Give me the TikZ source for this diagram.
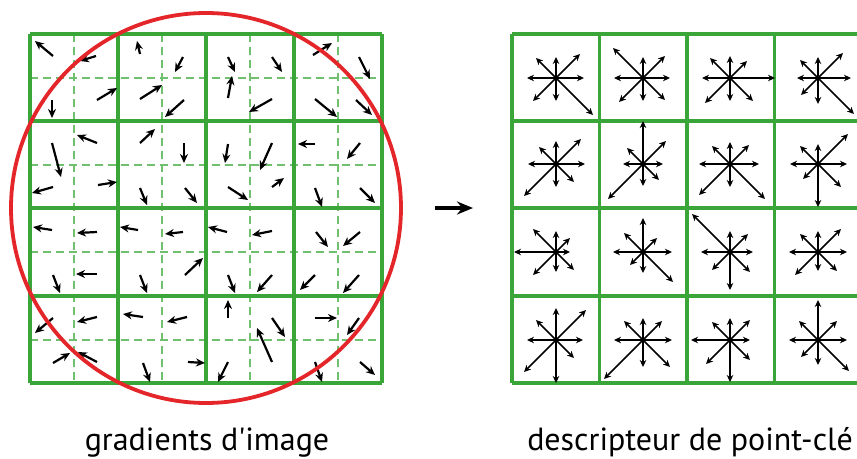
\documentclass[tikz,border=0pt]{standalone}
\usepackage{fontspec}
\newfontfamily\labfont{PT Sans}[Ligatures=TeXOff]
\usetikzlibrary{arrows.meta}
\definecolor{gridgreen}{RGB}{58,166,58}
\definecolor{dashgreen}{RGB}{112,192,112}
\definecolor{circred}{RGB}{228,38,42}
\begin{document}
\begin{tikzpicture}[x=1pt,y=-1pt,
  gridline/.style={gridgreen, line width=3.4pt, line cap=square},
  fineline/.style={dashgreen, line width=2pt, dash pattern=on 8pt off 5pt},
  grad/.style={line width=2.2pt, -{Stealth[length=9pt,width=8pt]}},
  hist/.style={line width=1.5pt, -{Stealth[length=7pt,width=6.5pt]}},
  lab/.style={font=\labfont\fontsize{32}{34}\selectfont, anchor=base, inner sep=0pt}]
\useasboundingbox (0,0) rectangle (857,458);
\clip (0,0) rectangle (857,458);
% left grid
\foreach \x in {74,162,250,338} \draw[fineline] (\x,34) -- (\x,383);
\foreach \y in {77.5,164.5,252,339.5} \draw[fineline] (30,\y) -- (382,\y);
\foreach \x in {30,118,206,294,382} \draw[gridline] (\x,34) -- (\x,383);
\foreach \y in {34,121,208,296,383} \draw[gridline] (30,\y) -- (382,\y);
% right grid
\foreach \x in {512,599.5,687,774.5,862} \draw[gridline] (\x,34) -- (\x,383);
\foreach \y in {34,121,208,296,383} \draw[gridline] (512,\y) -- (862,\y);
% gradients
\foreach \a/\b/\c/\d in {
53/56/35/41, 96/56/80/61, 52/100/52/118, 97/100/117/88,
140/54/137/41, 183/57/175/72, 140/99/162/85, 184/100/165/117,
97/143/77/135, 52/143/61/177, 140/143/155/129, 184/143/184/163,
53/187/32/193, 98/185/117/182, 140/188/147/205, 185/188/197/203,
228/57/235/72, 228/98/232/76, 272/57/282/72, 272/99/249/112,
313/55/332/43, 359/57/370/79, 315/99/337/117, 356/100/372/115,
228/144/225/163, 272/143/260/170, 315/144/298/144, 360/143/347/159,
228/187/248/200, 272/187/284/178, 315/188/322/207, 360/188/375/203,
52/230/33/227, 97/232/77/233, 138/230/120/227, 183/232/165/234,
53/275/60/293, 97/274/76/274, 140/275/147/293, 185/275/203/258,
53/318/35/333, 97/317/77/322, 143/317/123/314, 187/317/167/322,
53/363/70/353, 97/362/78/352, 143/363/150/382, 188/362/205/363,
227/232/208/227, 272/231/252/235, 316/232/328/247, 360/232/343/246,
228/275/235/293, 272/275/257/292, 315/275/300/290, 359/275/343/293,
228/318/228/300, 272/318/285/337, 315/318/337/318, 359/318/347/335,
272/362/257/328, 228/362/218/382, 315/362/322/382, 360/362/375/375}
  \draw[grad] (\a,\b) -- (\c,\d);
% histograms
\foreach \cx/\cy/\e/\ne/\n/\nw/\w/\sw/\s/\se in {
556/78/28/24/21/20/29/23/23/37,
643/78/27/22/21/30/29/24/23/22,
730/78/45/17/22/20/28/25/23/23,
818/78/33/25/21/18/21/17/26/36,
556/164/29/25/23/17/28/32/23/18,
643/164/20/23/43/16/20/35/22/16,
730/164/29/19/22/18/31/31/23/35,
818/164/29/30/20/18/28/15/43/23,
556/252/14/14/21/23/42/23/20/18,
643/252/29/14/34/19/30/13/21/30,
730/252/23/18/21/38/29/18/38/20,
818/252/29/23/21/18/29/23/19/19,
556/340/27/30/32/20/29/32/43/18,
643/340/29/19/22/19/29/39/27/27,
730/340/20/20/22/18/39/24/42/20,
818/340/29/19/40/19/29/17/25/31}
{
  \draw[hist] (\cx,\cy) -- ++(\e,0);
  \draw[hist] (\cx,\cy) -- ++(\ne,-\ne);
  \draw[hist] (\cx,\cy) -- ++(0,-\n);
  \draw[hist] (\cx,\cy) -- ++(-\nw,-\nw);
  \draw[hist] (\cx,\cy) -- ++(-\w,0);
  \draw[hist] (\cx,\cy) -- ++(-\sw,\sw);
  \draw[hist] (\cx,\cy) -- ++(0,\s);
  \draw[hist] (\cx,\cy) -- ++(\se,\se);
}
% circle
\draw[circred, line width=3.8pt] (206,208) circle[radius=195];
% middle arrow
\coordinate (atail) at (435,208);
\coordinate (ahead) at (473,208);
\draw[line width=3.2pt, -{Stealth[length=16pt,width=13pt]}] (atail) -- (ahead);
% labels
\node[lab] (labL) at (207,450) {gradients d'image};
\node[lab] (labR) at (690,450) {descripteur de point-clé};
\end{tikzpicture}
\end{document}
